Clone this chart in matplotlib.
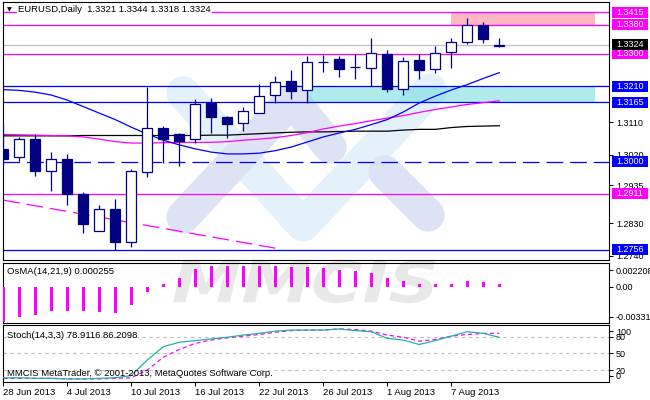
import matplotlib
matplotlib.use('Agg')
import matplotlib.pyplot as plt
import numpy as np
from matplotlib.patches import Rectangle, PathPatch
from matplotlib.lines import Line2D
from matplotlib.textpath import TextPath
from matplotlib.font_manager import FontProperties
from matplotlib.transforms import Affine2D, IdentityTransform, blended_transform_factory

plt.rcParams['font.family'] = ['Liberation Sans', 'DejaVu Sans']
plt.rcParams['font.size'] = 6.5
plt.rcParams['lines.scale_dashes'] = False

# ---------------- data (EURUSD daily, 28 Jun - 12 Aug 2013)
date_labels = ['28 Jun 2013', '4 Jul 2013', '10 Jul 2013', '16 Jul 2013',
               '22 Jul 2013', '26 Jul 2013', '1 Aug 2013', '7 Aug 2013']
date_label_bars = [0, 4, 8, 12, 16, 20, 24, 28]

opens = [1.3036, 1.3013, 1.3063, 1.2976, 1.3008, 1.2911, 1.2809, 1.2869,
         1.2779, 1.2971, 1.3094, 1.3077, 1.3063, 1.3162, 1.3125, 1.3107,
         1.3136, 1.3185, 1.3224, 1.3199, 1.3276, 1.3285, 1.3262, 1.3259,
         1.3299, 1.3203, 1.3282, 1.3256, 1.3303, 1.3333, 1.3379, 1.3321]
highs = [1.3102, 1.3068, 1.3077, 1.3027, 1.3022, 1.2917, 1.2880, 1.2897,
         1.2979, 1.3206, 1.3099, 1.3079, 1.3174, 1.3176, 1.3126, 1.3151,
         1.3216, 1.3238, 1.3254, 1.3293, 1.3296, 1.3293, 1.3298, 1.3343,
         1.3310, 1.3291, 1.3299, 1.3321, 1.3343, 1.3399, 1.3387, 1.3344]
lows = [1.2991, 1.3003, 1.2962, 1.2920, 1.2880, 1.2804, 1.2808, 1.2756,
        1.2763, 1.2959, 1.2996, 1.2989, 1.3051, 1.3081, 1.3065, 1.3086,
        1.3134, 1.3164, 1.3174, 1.3162, 1.3250, 1.3236, 1.3230, 1.3210,
        1.3194, 1.3185, 1.3230, 1.3245, 1.3261, 1.3326, 1.3330, 1.3318]
closes = [1.3007, 1.3062, 1.2976, 1.3007, 1.2911, 1.2828, 1.2869, 1.2779,
          1.2975, 1.3093, 1.3063, 1.3059, 1.3159, 1.3123, 1.3105, 1.3141,
          1.3183, 1.3220, 1.3197, 1.3276, 1.3276, 1.3258, 1.3262, 1.3301,
          1.3203, 1.3279, 1.3255, 1.3301, 1.3333, 1.3379, 1.3339, 1.3324]

ma_blue = [1.3200, 1.3198, 1.3193, 1.3185, 1.3171, 1.3153, 1.3135, 1.3117,
           1.3096, 1.3077, 1.3060, 1.3047, 1.3036, 1.3027, 1.3022, 1.3022,
           1.3024, 1.3031, 1.3041, 1.3055, 1.3069, 1.3080, 1.3090, 1.3103,
           1.3117, 1.3138, 1.3163, 1.3182, 1.3199, 1.3214, 1.3231, 1.3247]
ma_magenta = [1.3076, 1.3075, 1.3074, 1.3073, 1.3072, 1.3069, 1.3063, 1.3056,
              1.3052, 1.3052, 1.3053, 1.3054, 1.3054, 1.3054, 1.3056, 1.3060,
              1.3063, 1.3067, 1.3073, 1.3081, 1.3091, 1.3099, 1.3106, 1.3114,
              1.3121, 1.3128, 1.3137, 1.3145, 1.3152, 1.3159, 1.3164, 1.3169]
ma_black = [1.3072, 1.3072, 1.3072, 1.3072, 1.3072, 1.3073, 1.3073, 1.3073,
            1.3073, 1.3073, 1.3073, 1.3073, 1.3073, 1.3074, 1.3074, 1.3076,
            1.3078, 1.3080, 1.3082, 1.3083, 1.3083, 1.3084, 1.3085, 1.3085,
            1.3085, 1.3088, 1.3090, 1.3090, 1.3095, 1.3098, 1.3099, 1.3100]

# falling trend line (bar index, price)
trend_bars = [0, 17]
trend_prices = [1.2894, 1.2761]

levels = [1.3415, 1.3380, 1.3300, 1.3210, 1.3165, 1.3000, 1.2911, 1.2756]
level_colors = ['#FF00FF', '#FF00FF', '#FF00FF', '#0000FF', '#0000FF',
                '#0000FF', '#FF00FF', '#0000FF']
level_dashed = [False, False, False, False, False, True, False, False]
last_price = 1.3324

# zones: (first bar, last bar, low, high)
pink_zone = (28, 37, 1.3380, 1.3415)
cyan_zone = (19, 37, 1.3165, 1.3210)

price_ticks = [1.3110, 1.3020, 1.2935, 1.2830, 1.2740]

osma = [-0.00327, -0.00281, -0.00265, -0.00227, -0.00227, -0.00227, -0.00234, -0.00240,
        -0.00171, -0.00053, 0.00023, 0.00080, 0.00158, 0.00187, 0.00193, 0.00193,
        0.00191, 0.00193, 0.00181, 0.00182, 0.00174, 0.00156, 0.00143, 0.00122,
        0.00074, 0.00055, 0.00025, 0.00020, 0.00023, 0.00047, 0.00037, 0.000255]
osma_max, osma_min = 0.002208, -0.00331

stoch_main = [6, 6, 5, 5, 4, 4, 5, 6, 10, 38, 62, 70, 73, 76, 79, 83,
              86, 90, 92, 92, 92, 94, 91, 89, 77, 74, 66, 73, 81, 89, 86, 78.9116]
stoch_signal = [5, 5, 5, 5, 4, 4, 4, 5, 6, 20, 43, 57, 68, 74, 78, 81,
                84, 88, 91, 92, 92, 94, 93, 90, 83, 79, 72, 75, 81, 84, 86, 86.2098]
stoch_levels = [80, 50, 20]

navy = '#000080'
W, H = 650, 400

fig = plt.figure(figsize=(6.5, 4), dpi=100)
fig.patch.set_facecolor('white')


def px_axes(left, top, right, bottom):
    a = fig.add_axes([left / W, 1 - bottom / H, (right - left) / W, (bottom - top) / H])
    a.set_facecolor('none')
    for s in a.spines.values():
        s.set_color('black')
        s.set_linewidth(0.8)
    a.yaxis.tick_right()
    a.tick_params(axis='y', length=3, width=0.7, pad=2, labelsize=6.5)
    a.tick_params(axis='x', bottom=False, labelbottom=False)
    return a


ax = px_axes(2.5, 2, 609, 260)
ax_osma = px_axes(2.5, 262.5, 609, 322.5)
ax_st = px_axes(2.5, 325, 609, 381.5)

xlim = (-0.05, 37.86)
for a in (ax, ax_osma, ax_st):
    a.set_xlim(*xlim)

# ---------------- watermark
wm_path = TextPath((0, 0), 'MMCIS', size=100,
                   prop=FontProperties(family='DejaVu Sans', weight='bold', style='italic'))
ext = wm_path.get_extents()
wm_tr = Affine2D().translate(-ext.x0, -ext.y0).scale(262 / ext.width, 43 / ext.height).translate(173, H - 303)
fig.add_artist(PathPatch(wm_path, transform=wm_tr, fc='#e8e8e8', ec='none', zorder=-2))

logo_light = [[(183, 93), (303, 225), (430, 90)]]
logo_lav = [[(183, 217), (292, 100), (330, 147)], [(385, 172), (428, 215)]]
for strokes, col in ((logo_light, '#e3f1fa'), (logo_lav, '#dde2f5')):
    for pts in strokes:
        xs = [p[0] for p in pts]
        ys = [H - p[1] for p in pts]
        fig.add_artist(Line2D(xs, ys, transform=IdentityTransform(), lw=24, color=col,
                              solid_capstyle='round', solid_joinstyle='round', zorder=-1))

# ---------------- main price panel
ylo, yhi = 1.27282, 1.34427
ax.set_ylim(ylo, yhi)
x = np.arange(len(opens))

ax.add_patch(Rectangle((pink_zone[0], pink_zone[2]), pink_zone[1] - pink_zone[0],
                       pink_zone[3] - pink_zone[2], fc='#FFB6C1', ec='none', zorder=1))
ax.add_patch(Rectangle((cyan_zone[0], cyan_zone[2]), cyan_zone[1] - cyan_zone[0],
                       cyan_zone[3] - cyan_zone[2], fc='#61d9d9', alpha=0.5, ec='none', zorder=1))

for lev, col, dash in zip(levels, level_colors, level_dashed):
    if dash:
        ax.axhline(lev, color=col, lw=0.9, dashes=(12, 5), zorder=2)
    else:
        ax.axhline(lev, color=col, lw=0.9, zorder=2)
ax.axhline(last_price, color='#C0C0C0', lw=0.9, zorder=2)

ax.plot(trend_bars, trend_prices, color='#FF00FF', lw=0.9, dashes=(12, 5), zorder=2)
ax.plot(x, ma_black, color='black', lw=0.9, zorder=2)
ax.plot(x, ma_magenta, color='#FF00FF', lw=0.9, zorder=2)
ax.plot(x, ma_blue, color='#0000FF', lw=0.9, zorder=2)

o = np.array(opens)
c = np.array(closes)
ax.vlines(x, lows, highs, color=navy, lw=0.9, zorder=3)
body_fc = [navy if cc < oo else 'white' for oo, cc in zip(o, c)]
ax.bar(x, np.abs(c - o), bottom=np.minimum(o, c), width=0.62, color=body_fc,
       edgecolor=navy, linewidth=0.9, zorder=4)

ax.set_yticks(price_ticks)
ax.set_yticklabels([f'{v:.4f}' for v in price_ticks])

# price labels on the right axis
blend = blended_transform_factory(ax.transAxes, ax.transData)
hh = 5.5 * (yhi - ylo) / 258
for lev, col in list(zip(levels, level_colors)) + [(last_price, 'black')]:
    ax.add_patch(Rectangle((1.0049, lev - hh), 0.0594, 2 * hh, transform=blend,
                           fc=col, ec='none', clip_on=False, zorder=5))
    ax.text(1.0115, lev, f'{lev:.4f}', transform=blend, color='white', va='center',
            ha='left', fontsize=6.5, clip_on=False, zorder=6)

ax.text(0.0256, 0.969, 'EURUSD,Daily  1.3321 1.3344 1.3318 1.3324', transform=ax.transAxes,
        va='center', ha='left', fontsize=6.8, zorder=6,
        bbox=dict(fc='white', ec='none', pad=0.6))
ax.text(0.0115, 0.969, '\u25bc', transform=ax.transAxes, va='center', ha='center',
        fontsize=4.5, family='DejaVu Sans', zorder=6)

# cover bottom of the cut price label between panels
fig.add_artist(Rectangle((610 / W, 1 - 262 / H), 40 / W, 3.5 / H, transform=fig.transFigure,
                         fc='white', ec='none', zorder=1))

# ---------------- OsMA panel
ax_osma.set_ylim(osma_min, osma_max)
ax_osma.bar(x, osma, width=0.21, color='#FF00FF', zorder=3)
rng = osma_max - osma_min
ax_osma.set_yticks([osma_max - 0.125 * rng, 0.0, osma_min + 0.097 * rng])
ax_osma.set_yticklabels([f'{osma_max:.6f}', '0.00', f'{osma_min:.5f}'])
ax_osma.text(0.0074, 0.858, f'OsMA(14,21,9) {osma[-1]:.6f}', transform=ax_osma.transAxes,
             va='center', ha='left', fontsize=6.8)

# ---------------- Stochastic panel
ax_st.set_ylim(-0.7, 101.1)
for lv in stoch_levels:
    ax_st.axhline(lv, color='#C0C0C0', lw=0.8, dashes=(2.5, 2.5), zorder=1)
ax_st.plot(x, stoch_signal, color='#FF00FF', lw=0.9, dashes=(3, 2.2), zorder=2)
ax_st.plot(x, stoch_main, color='#20B2AA', lw=0.9, zorder=3)
ax_st.set_yticks([90, 80, 50, 20, 10])
ax_st.set_yticklabels(['100', '80', '50', '20', '0'])
ax_st.text(0.0074, 0.823, f'Stoch(14,3,3) {stoch_main[-1]:.4f} {stoch_signal[-1]:.4f}',
           transform=ax_st.transAxes, va='center', ha='left', fontsize=6.8)
ax_st.text(0.0074, 0.133, 'MMCIS MetaTrader, \u00a9 2001-2013, MetaQuotes Software Corp.',
           transform=ax_st.transAxes, va='center', ha='left', fontsize=6.8, zorder=4)

ax_st.tick_params(axis='x', bottom=True, labelbottom=True, length=3, width=0.7,
                  pad=2, labelsize=6.8)
ax_st.set_xticks(date_label_bars)
ax_st.set_xticklabels(date_labels, ha='left')

fig.savefig('out.png', dpi=100, facecolor='white')
